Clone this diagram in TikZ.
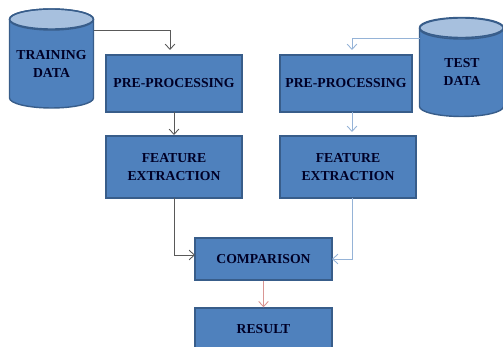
\documentclass[tikz,border=0pt]{standalone}
\usepackage{fontspec}
\setmainfont{Liberation Serif}
\usetikzlibrary{arrows.meta,shapes.geometric}
\definecolor{boxfill}{HTML}{4F81BD}
\definecolor{boxline}{HTML}{385D8A}
\definecolor{cyltop}{HTML}{A7C0DE}
\definecolor{trainline}{HTML}{595959}
\definecolor{testline}{HTML}{95B3D7}
\definecolor{resultline}{HTML}{D99694}
\tikzset{>={Straight Barb[length=3pt,width=5.5pt]}}
\tikzset{labeltext/.style={inner sep=0pt,align=center,
    font=\fontsize{7.8}{10}\selectfont\bfseries,text=black!85!blue}}
\tikzset{stagebox/.style={labeltext,draw=boxline,fill=boxfill,line width=0.8pt}}
\tikzset{datacyl/.style={cylinder,shape border rotate=90,aspect=0.4,draw=boxline,line width=0.8pt,
    cylinder uses custom fill,cylinder body fill=boxfill,cylinder end fill=cyltop,
    inner sep=0pt,anchor=shape center,minimum width=1.68cm,minimum height=1.98cm}}
\tikzset{cylrim/.style={draw=boxline,line width=0.8pt}}
\tikzset{wire/.style={->,line width=0.5pt}}
\begin{document}
\begin{tikzpicture}[x=0.02cm,y=-0.02cm]
      \useasboundingbox (0,0) rectangle (503,347);
      \node[datacyl] (traindata) at (51.5,58.5) {\rule{1cm}{0pt}};
      \node[datacyl] (testdata) at (461.5,67) {\rule{1cm}{0pt}};
      \draw[cylrim] (51.5,19.5) ellipse [x radius=42,y radius=10.5];
      \draw[cylrim] (461.5,28.5) ellipse [x radius=42,y radius=10.5];
      \node[labeltext] (trainlabel) at (51.5,64) {TRAINING\\DATA};
      \node[labeltext] (testlabel) at (462,72) {TEST\\DATA};
      \node[stagebox,minimum width=2.72cm,minimum height=1.14cm] (preleft) at (174,83.5) {PRE-PROCESSING};
      \node[stagebox,minimum width=2.64cm,minimum height=1.14cm] (preright) at (346,83.5) {PRE-PROCESSING};
      \node[stagebox,minimum width=2.72cm,minimum height=1.24cm] (featleft) at (174,167) {FEATURE\\EXTRACTION};
      \node[stagebox,minimum width=2.72cm,minimum height=1.24cm] (featright) at (348,167) {FEATURE\\EXTRACTION};
      \node[stagebox,minimum width=2.74cm,minimum height=0.84cm] (comparison) at (263.5,259) {COMPARISON};
      \node[stagebox,minimum width=2.74cm,minimum height=0.84cm] (result) at (263.5,329) {RESULT};
      % free ends of the connectors
      \coordinate (trainout) at (94,30);
      \coordinate (testout) at (420,38);
      \coordinate (leftin) at (170,50);
      \coordinate (rightin) at (352,50);
      \coordinate (leftdown) at (174,112);
      \coordinate (leftfeat) at (174,135);
      \coordinate (rightdown) at (352,112);
      \coordinate (rightfeat) at (352,132);
      \coordinate (leftout) at (174,198);
      \coordinate (rightout) at (352,198);
      \coordinate (compleft) at (195,255);
      \coordinate (compright) at (332,259);
      \draw[wire,trainline] (trainout) -| (leftin);
      \draw[wire,testline] (testout) -| (rightin);
      \draw[wire,trainline] (leftdown) -- (leftfeat);
      \draw[wire,testline] (rightdown) -- (rightfeat);
      \draw[wire,trainline] (leftout) |- (compleft);
      \draw[wire,testline] (rightout) |- (compright);
      \draw[wire,resultline] (comparison) -- (result);
    \end{tikzpicture}
\end{document}
